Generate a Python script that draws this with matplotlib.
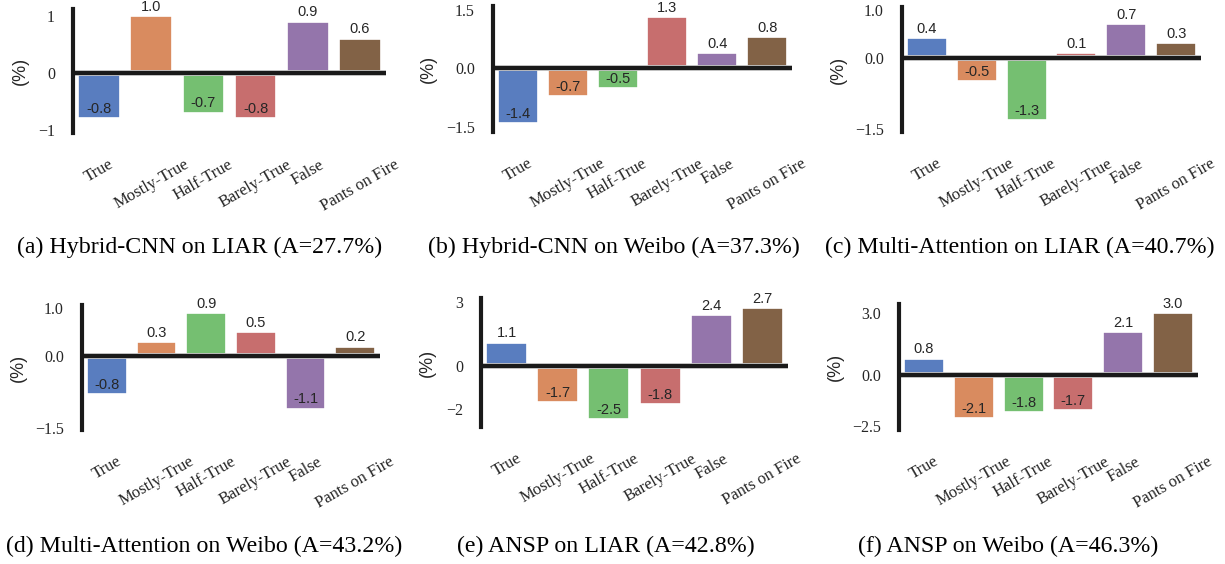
import colorsys
import matplotlib
matplotlib.use('Agg')
import matplotlib.pyplot as plt
import matplotlib.colors as mcolors

# data
categories = ['True', 'Mostly-True', 'Half-True', 'Barely-True', 'False', 'Pants on Fire']
hybrid_liar = [-0.8, 1.0, -0.7, -0.8, 0.9, 0.6]
hybrid_weibo = [-1.4, -0.7, -0.5, 1.3, 0.4, 0.8]
multi_liar = [0.4, -0.5, -1.3, 0.1, 0.7, 0.3]
multi_weibo = [-0.8, 0.3, 0.9, 0.5, -1.1, 0.2]
ansp_liar = [1.1, -1.7, -2.5, -1.8, 2.4, 2.7]
ansp_weibo = [0.8, -2.1, -1.8, -1.7, 2.1, 3.0]

captions = ['(a) Hybrid-CNN on LIAR (A=27.7%)', '(b) Hybrid-CNN on Weibo (A=37.3%)',
            '(c) Multi-Attention on LIAR (A=40.7%)', '(d) Multi-Attention on Weibo (A=43.2%)',
            '(e) ANSP on LIAR (A=42.8%)', '(f) ANSP on Weibo (A=46.3%)']
yticks = [[-1, 0, 1], [-1.5, 0, 1.5], [-1.5, 0, 1.0],
          [-1.5, 0, 1.0], [-2, 0, 3], [-2.5, 0, 3.0]]
ylims = [(-1.06, 1.12), (-1.62, 1.59), (-1.56, 1.06),
         (-1.55, 1.07), (-2.86, 3.19), (-2.67, 3.45)]
series = [hybrid_liar, hybrid_weibo, multi_liar, multi_weibo, ansp_liar, ansp_weibo]

# seaborn "muted" palette, desaturated like barplot does
muted = ['#4878D0', '#EE854A', '#6ACC64', '#D65F5F', '#956CB4', '#8C613C']
colors = []
for c in muted:
    h, l, s = colorsys.rgb_to_hls(*mcolors.to_rgb(c))
    colors.append(colorsys.hls_to_rgb(h, l, s * 0.75))

# layout in pixels: left, right, top, bottom of each axes
W, H = 1225, 564
boxes = [(73, 386, 9, 133), (493, 792, 6, 132), (902, 1201, 7, 132),
         (82, 380, 305, 430), (481, 788, 298, 427), (899, 1198, 304, 430)]
ylabel_x = [20, 428, 838, 18, 427, 835]
cap_pos = [(200, 247), (614, 247), (1020, 247), (204, 546), (606, 546), (1008, 546)]

fig = plt.figure(figsize=(W / 100, H / 100), dpi=100)

for i in range(6):
    l, r, t, b = boxes[i]
    ax = fig.add_axes([l / W, 1 - b / H, (r - l) / W, (b - t) / H])
    x = list(range(len(categories)))
    ax.bar(x, series[i], width=0.8, color=colors, edgecolor='white', linewidth=1.2, zorder=2)

    # value labels
    for xi, v in zip(x, series[i]):
        ax.annotate(f'{v:.1f}', (xi, v), xytext=(0, 1.5), textcoords='offset points',
                    ha='center', va='bottom', fontsize=10.5, color='#262626',
                    family='Liberation Sans', zorder=4)

    # thick zero line
    ax.axhline(0, color='#cccccc', lw=4.2, zorder=2.5)
    ax.axhline(0, color='#1a1a1a', lw=3.0, zorder=3)

    ax.set_xlim(-0.5, 5.5)
    ax.set_ylim(*ylims[i])
    ax.set_yticks(yticks[i])
    ax.set_xticks(x)
    ax.set_xticklabels(categories, rotation=30, ha='center', family='Liberation Serif',
                       fontsize=12)
    for lab in ax.get_yticklabels():
        lab.set_family('Liberation Serif')
        lab.set_fontsize(11.5)
    ax.tick_params(axis='y', length=0, pad=13, colors='#262626')
    ax.tick_params(axis='x', length=0, pad=17, colors='#262626')
    for s in ['top', 'right', 'bottom']:
        ax.spines[s].set_visible(False)
    ax.spines['left'].set_linewidth(3.0)
    ax.spines['left'].set_color('#1a1a1a')

    fig.text(ylabel_x[i] / W, 1 - (t + b) / 2 / H, '(%)', rotation=90, ha='center',
             va='center', fontsize=13, family='Liberation Sans', color='#262626')
    cx, cy = cap_pos[i]
    fig.text(cx / W, 1 - cy / H, captions[i], ha='center', va='center',
             fontsize=17.2, family='Liberation Serif')

fig.savefig('out.png', dpi=100)
